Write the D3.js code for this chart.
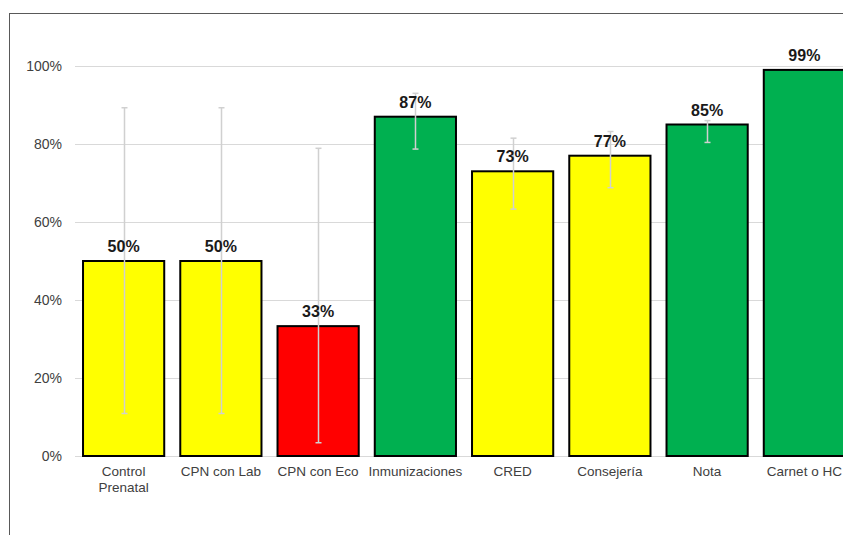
<!DOCTYPE html>
<html>
<head>
<meta charset="utf-8">
<script src="https://cdn.jsdelivr.net/npm/d3@7"></script>
<style>
  body { margin: 0; background: #fff; }
  svg { display: block; font-family: "Liberation Sans", Arial, sans-serif; }
</style>
</head>
<body>
<svg id="chart" width="843" height="535"></svg>
<script>
// categories (use \n for two line labels)
const categories = ["Control\nPrenatal", "CPN con Lab", "CPN con Eco", "Inmunizaciones", "CRED", "Consejería", "Nota", "Carnet o HC"]
// percent values of each bar
const values = [50, 50, 33.3, 87, 73, 77, 85, 99]
// error bar range (null = no error bar)
const errLow = [10.9, 10.9, 3.4, 78.7, 63.3, 68.8, 80.4, null]
const errHigh = [89.3, 89.3, 78.9, 93, 81.5, 83.2, 86, null]
// traffic light colour of each bar
const levels = ["yellow", "yellow", "red", "green", "yellow", "yellow", "green", "green"]
const yTicks = [0, 20, 40, 60, 80, 100]

const colors = { green: "#00b050", yellow: "#ffff00", red: "#ff0000" }

const margin = { top: 66, bottom: 79, left: 75, right: -10 }
const width = 843
const height = 535

const svg = d3.select("#chart")

// outer frame of the chart area (cropped on right and bottom)
svg.append("rect")
  .attr("x", 9.5)
  .attr("y", 13.5)
  .attr("width", width)
  .attr("height", height)
  .attr("fill", "none")
  .attr("stroke", "#595959")
  .attr("stroke-width", 1)

const xScale = d3.scaleBand()
  .domain(categories)
  .range([margin.left, width - margin.right])
  .paddingInner(0.165)
  .paddingOuter(0.0825)

const yScale = d3.scaleLinear()
  .domain([0, 100])
  .range([height - margin.bottom, margin.top])

/**
 * Gridlines + y tick labels
 */
const yAxis = d3.axisLeft(yScale)
  .tickValues(yTicks)
  .tickSize(-(width - margin.left + 20))
  .tickPadding(13)
  .tickFormat(d => d + "%")

const gy = svg.append("g")
  .attr("transform", `translate(${margin.left},0)`)
  .call(yAxis)

gy.select(".domain").remove()
gy.selectAll(".tick line").attr("stroke", "#d9d9d9").attr("stroke-width", 1)
gy.selectAll(".tick text")
  .attr("fill", "#404040")
  .style("font-size", "14px")
  .style("font-family", "\"Liberation Sans\", Arial, sans-serif")

/**
 * Bars
 */
const barWidth = xScale.bandwidth()

svg.append("g")
  .selectAll("rect")
  .data(categories)
  .join("rect")
  .attr("x", d => xScale(d))
  .attr("y", (d, i) => yScale(values[i]))
  .attr("width", barWidth)
  .attr("height", (d, i) => yScale(0) - yScale(values[i]))
  .attr("fill", (d, i) => colors[levels[i]])
  .attr("stroke", "#000")
  .attr("stroke-width", 2)

/**
 * Error bars
 */
const errGroup = svg.append("g")
categories.forEach((c, i) => {
  if (errLow[i] == null) return
  const cx = Math.round(xScale(c) + barWidth / 2) + 0.5
  const g = errGroup.append("g").attr("stroke", "#d0d0d0").attr("stroke-width", 1.5)
  g.append("line")
    .attr("x1", cx).attr("x2", cx)
    .attr("y1", yScale(errLow[i])).attr("y2", yScale(errHigh[i]))
  g.append("line")
    .attr("x1", cx - 3).attr("x2", cx + 3)
    .attr("y1", yScale(errLow[i])).attr("y2", yScale(errLow[i]))
  g.append("line")
    .attr("x1", cx - 3).attr("x2", cx + 3)
    .attr("y1", yScale(errHigh[i])).attr("y2", yScale(errHigh[i]))
})

/**
 * Value labels
 */
svg.append("g")
  .selectAll("text")
  .data(categories)
  .join("text")
  .attr("x", d => xScale(d) + barWidth / 2)
  .attr("y", (d, i) => yScale(values[i]) - 9)
  .attr("text-anchor", "middle")
  .attr("fill", "#1a1a1a")
  .style("font-size", "16px")
  .style("font-weight", "bold")
  .text((d, i) => Math.round(values[i]) + "%")

/**
 * Category labels
 */
const xLabels = svg.append("g")
  .selectAll("text")
  .data(categories)
  .join("text")
  .attr("x", d => xScale(d) + barWidth / 2)
  .attr("y", 476)
  .attr("text-anchor", "middle")
  .attr("fill", "#404040")
  .style("font-size", "13.5px")

xLabels.each(function (d) {
  const t = d3.select(this)
  d.split("\n").forEach((line, k) => {
    t.append("tspan")
      .attr("x", xScale(d) + barWidth / 2)
      .attr("dy", k === 0 ? 0 : 16)
      .text(line)
  })
})
</script>
</body>
</html>
